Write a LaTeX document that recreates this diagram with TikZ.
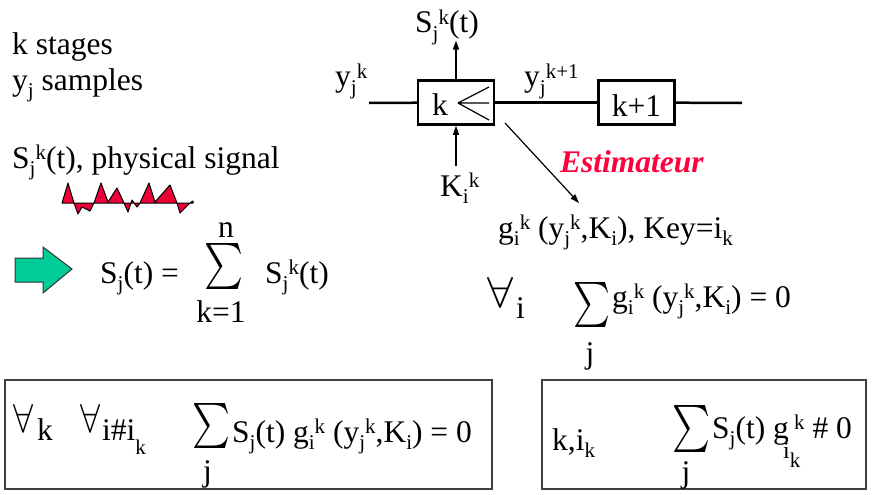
\documentclass[tikz,border=0pt]{standalone}
\usepackage{fontspec}
\setmainfont{Liberation Serif}
\usepackage{graphicx}
\usetikzlibrary{arrows.meta, positioning}

\definecolor{sigred}{RGB}{235,0,55}
\definecolor{estred}{RGB}{255,0,60}
\definecolor{arrowgreen}{RGB}{0,204,153}
\newcommand\mainsz{\fontsize{31.5}{36}\selectfont}
\newcommand\dnx[1]{\raisebox{-0.25em}{\fontsize{21}{21}\selectfont #1}}
\newcommand\upx[1]{\raisebox{0.28em}{\fontsize{21}{21}\selectfont #1}}

\begin{document}
\begin{tikzpicture}[x=1pt, y=-1pt,
    txt/.style={anchor=base west, inner sep=0pt, font=\mainsz},
    lim/.style={anchor=base, inner sep=0pt, font=\mainsz},
    stage/.style={draw, line width=2.5pt, minimum width=76pt, minimum height=44pt, inner sep=0pt, text height=29pt, font=\mainsz},
    bus/.style={line width=2.5pt},
    sig/.style={-{Triangle[length=9pt, width=6pt]}, line width=1.2pt},
    cmp/.style={line width=1.2pt},
    op/.style={inner sep=0pt},
    eqbox/.style={draw=black!75, line width=1.3pt, inner sep=0pt},
    wave/.style={fill=sigred, draw=black, line width=1pt, line join=round},
    nextarrow/.style={fill=arrowgreen, draw=black!80, line width=1pt}
]
    \useasboundingbox (0,0) rectangle (873,495);

    % Legend on the left
    \node[txt] (stages) at (12,55) {k stages};
    \node[txt] (samples) at (12,90) {y\dnx{j} samples};
    \node[txt] (physig) at (12,168) {S\dnx{j}\upx{k}(t), physical signal};
    \filldraw[wave] (62,203) -- (68,183) -- (74,203) -- (78,214) -- (82,207) -- (90,211) -- (94,203)
        -- (101,183) -- (108,202) -- (117,188) -- (124,203) -- (128,212) -- (132,200) -- (137,207)
        -- (140,203) -- (149,183) -- (155,202) -- (170,185) -- (177,203) -- (180,213) -- (190,203)
        -- (193,201) -- (193,203) -- cycle;

    % Sum over the stages
    \filldraw[nextarrow] (15,258) -- (43,258) -- (43,247) -- (72,269) -- (43,293) -- (43,282) -- (15,282) -- cycle;
    \node[txt] (sjt) at (100,283) {S\dnx{j}(t) =};
    \node[op] (sumA) at (223.5,266) {\resizebox*{39pt}{46pt}{$\sum$}};
    \node[lim] (nA) at (226,237) {n};
    \node[lim] (kA) at (221,322) {k=1};
    \node[txt] (sjkA) at (265,283) {S\dnx{j}\upx{k}(t)};

    % Stage chain
    \node[stage] (kbox) at (456,102.5) {};
    \node[stage, right=102pt of kbox] (k1box) {k+1};
    \node[txt] (kstage) at (432,115) {k};
    \draw[cmp] (458,103) -- (489,87) (458,103) -- (489,103) (458,103) -- (489,120);
    \coordinate (yin) at (369,103);
    \coordinate (yout) at (742,103);
    \draw[bus] (yin) -- (kbox);
    \draw[bus] (kbox) -- (k1box);
    \draw[bus] (k1box) -- (yout);

    % Stage labels
    \node[txt] (yjk) at (335,87) {y\dnx{j}\upx{k}};
    \node[txt] (yjk1) at (524,87) {y\dnx{j}\upx{k+1}};
    \node[txt] (sout) at (415,33) {S\dnx{j}\upx{k}(t)};
    \node[txt] (kin) at (440,196) {K\dnx{i}\upx{k}};
    \draw[sig] (kbox.north) -- ([yshift=5pt]kbox.north |- sout.south);
    \draw[sig] ([yshift=6pt]kin.north -| kbox.south) -- (kbox.south);

    % Estimator output
    \coordinate (tap) at (505,123);
    \coordinate (esttip) at (579,203);
    \draw[sig] (tap) -- (esttip);
    \node[txt, font=\mainsz\bfseries\itshape, text=estred] (est) at (560,172) {Estimateur};
    \node[txt] (gfun) at (498,238) {g\dnx{i}\upx{k} (y\dnx{j}\upx{k},K\dnx{i}), Key=i\dnx{k}};

    % Condition for all i
    \node[op, anchor=south west] (alli) at (487,308) {\resizebox*{26pt}{30pt}{$\forall$}};
    \node[txt] (iA) at (516,318) {i};
    \node[op] (sumB) at (591.5,304.5) {\resizebox*{37pt}{45pt}{$\sum$}};
    \node[lim] (jB) at (590,363) {j};
    \node[txt] (gsum) at (612,307) {g\dnx{i}\upx{k} (y\dnx{j}\upx{k},K\dnx{i}) = 0};

    % Boxed conditions
    \node[eqbox, minimum width=487pt, minimum height=109pt] (leftbox) at (248.5,434.5) {};
    \node[op, anchor=south west] (allk) at (13,433) {\resizebox*{20pt}{28pt}{$\forall$}};
    \node[txt] (kB) at (37,440) {k};
    \node[op, anchor=south west] (allik) at (80,433) {\resizebox*{20pt}{28pt}{$\forall$}};
    \node[txt] (iik) at (102,440) {i\#i\raisebox{-0.45em}{\fontsize{21}{21}\selectfont k}};
    \node[op] (sumC) at (211,425.5) {\resizebox*{38pt}{45pt}{$\sum$}};
    \node[lim] (jC) at (207.5,481) {j};
    \node[txt] (sgC) at (232,442) {S\dnx{j}(t) g\dnx{i}\upx{k} (y\dnx{j}\upx{k},K\dnx{i}) = 0};

    \node[eqbox, minimum width=324pt, minimum height=109pt] (rightbox) at (704,434.5) {};
    \node[txt] (kik) at (552,450) {k,i\dnx{k}};
    \node[op] (sumD) at (691,428.5) {\resizebox*{38pt}{47pt}{$\sum$}};
    \node[lim] (jD) at (686,482) {j};
    \node[txt] (sgD) at (712,438) {S\dnx{j}(t) g\,\upx{k} \# 0};
    \node[txt, font=\fontsize{24}{24}\selectfont] (ikD) at (783,458) {i\raisebox{-0.4em}{\fontsize{21}{21}\selectfont k}};

\end{tikzpicture}
\end{document}
